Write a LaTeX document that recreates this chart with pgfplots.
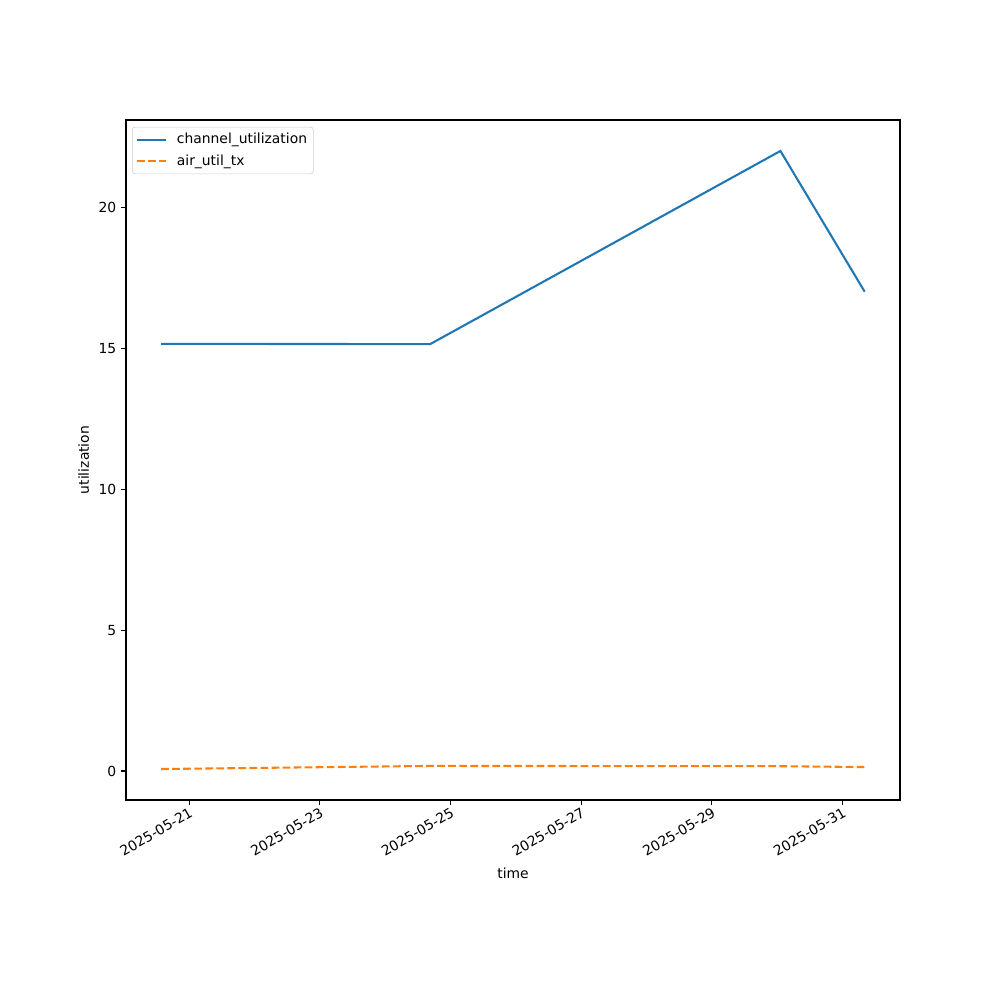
\documentclass[border=0pt]{standalone}
\usepackage{fontspec}
\setmainfont{DejaVu Sans}
\usepackage{pgfplots}
\pgfplotsset{compat=1.18}
\definecolor{tabblue}{HTML}{1F77B4}
\definecolor{taborange}{HTML}{FF7F0E}
\begin{document}
\begin{tikzpicture}
\path[use as bounding box] (-90.72pt,-144pt) rectangle (629.28pt,576pt);
\begin{axis}[
  at={(0pt,0pt)}, anchor=south west,
  scale only axis,
  width=557.28pt, height=489.6pt,
  xmin=-0.965, xmax=10.88,
  ymin=-1.03, ymax=23.12,
  xtick={0,2,4,6,8,10},
  xticklabels={2025-05-21,2025-05-23,2025-05-25,2025-05-27,2025-05-29,2025-05-31},
  xticklabel style={rotate=30, anchor=north east, font=\fontsize{10}{12}\selectfont, inner sep=1pt},
  ytick={0,5,10,15,20},
  yticklabel style={font=\fontsize{10}{12}\selectfont},
  /pgf/number format/assume math mode=true,
  tick align=outside,
  major tick length=3.5pt,
  tick style={black, line width=0.8pt},
  xtick pos=bottom, ytick pos=left,
  axis line style={line width=0.8pt},
  xlabel={time}, ylabel={utilization},
  label style={font=\fontsize{10}{12}\selectfont},
  xlabel style={yshift=-3pt},
  legend cell align=left,
  legend style={font=\fontsize{10}{12}\selectfont, draw=black!20, rounded corners=2pt, at={(0.008,0.99)}, anchor=north west, inner sep=2.5pt, row sep=2.5pt},
  legend image code/.code={\draw[#1] (0pt,0pt) -- (21pt,0pt); \path (26pt,0pt);},
]
\addplot[tabblue, line width=1.5pt] coordinates {(-0.427,15.17) (3.69,15.16) (9.05,22.02) (10.34,17.02)};
\addlegendentry{channel\_utilization}
\addplot[taborange, line width=1.5pt, dash pattern=on 5.55pt off 2.4pt] coordinates {(-0.427,0.07) (3.69,0.18) (9.05,0.17) (10.34,0.14)};
\addlegendentry{air\_util\_tx}
\end{axis}
\end{tikzpicture}
\end{document}
